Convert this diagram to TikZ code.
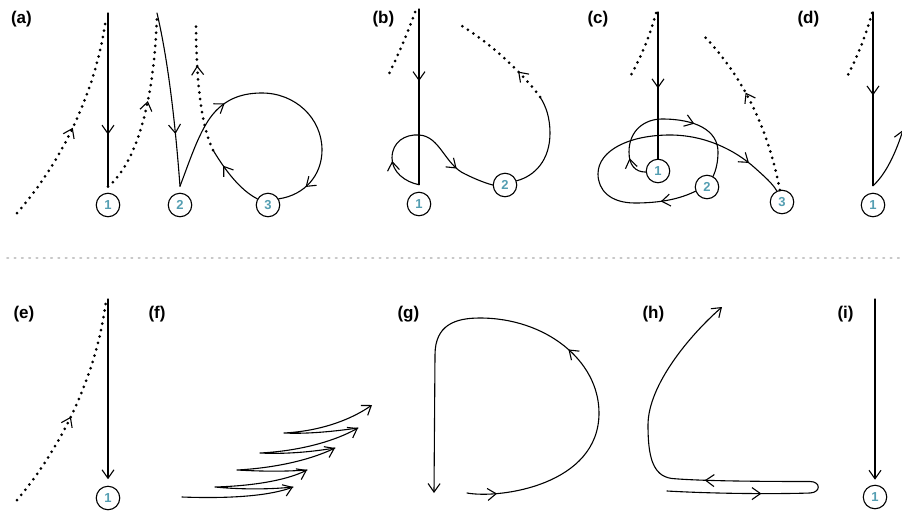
\documentclass[tikz,border=0pt]{standalone}
\usepackage{fontspec}
\newfontfamily\labfont{Liberation Sans}
\usetikzlibrary{arrows.meta,decorations.markings,calc}
\definecolor{numteal}{RGB}{84,158,178}
\definecolor{sepgray}{RGB}{200,200,200}
\tikzset{
  barb/.tip={Straight Barb[length=8.5pt,width=12pt,line width=1.1pt]},
  dotpath/.style={line width=3pt, dash pattern=on 0pt off 6.6pt, line cap=round},
  sepline/.style={sepgray, line width=1.6pt, dash pattern=on 1.5pt off 5.8pt},
  num/.style={circle, draw, line width=1.1pt, minimum size=23.5pt, inner sep=0pt,
    font=\labfont\bfseries\fontsize{13}{13}\selectfont, text=numteal},
  lab/.style={anchor=base west, inner sep=0pt, font=\labfont\bfseries\fontsize{17}{17}\selectfont},
  arrowat/.style={postaction={decorate}, decoration={markings, mark=at position #1 with {\arrow{barb}}}},
  arrowsat/.style 2 args={postaction={decorate}, decoration={markings,
    mark=at position #1 with {\arrow{barb}}, mark=at position #2 with {\arrow{barb}}}},
  endarrow/.style={-barb},
}
\begin{document}
\begin{tikzpicture}[x=1pt,y=-1pt,line width=1.1pt,line cap=round,line join=round]
\clip (0,0) rectangle (902,512);
\fill[white] (0,0) rectangle (902,512);

% panel labels
\node[lab] (la) at (10.5,23) {(a)};
\node[lab] (lb) at (372,23) {(b)};
\node[lab] (lc) at (587,23) {(c)};
\node[lab] (ld) at (797,23) {(d)};
\node[lab] (le) at (13,318) {(e)};
\node[lab] (lf) at (148,318) {(f)};
\node[lab] (lg) at (397,318) {(g)};
\node[lab] (lh) at (642,318) {(h)};
\node[lab] (li) at (837,318) {(i)};

% separator
\coordinate (sepL) at (7,258);
\coordinate (sepR) at (900,258);
\draw[sepline] (sepL) -- (sepR);

% ---------- (a)
\node[num] (a1) at (108,205) {1};
\node[num] (a2) at (180,205) {2};
\node[num] (a3) at (268,205) {3};
\coordinate (a1in) at ([yshift=6pt]a1.north);
\coordinate (a2in) at ([yshift=6.5pt]a2.north);
\coordinate (a1top) at (108,13);
\coordinate (aL0) at (17,213);
\coordinate (aL1) at (106,18);
\coordinate (aM1) at (157,13);
\coordinate (aD0) at (213,150);
\coordinate (aD1) at (196,21);
\draw[arrowat=0.70] (a1top) -- (a1in);
\draw[dotpath, arrowat=0.47] (aL0) .. controls (55,170) and (95,100) .. (aL1);
\draw[dotpath, arrowat=0.52] (a1in) .. controls (140,160) and (155,90) .. (aM1);
\draw[arrowat=0.70] (aM1) .. controls (168,60) and (175,120) .. (a2in);
\draw[arrowsat={0.32}{0.90}] (a2in) .. controls (190,160) and (198,135) .. (210,118)
   .. controls (225,97) and (245,93) .. (262,93)
   .. controls (295,93) and (322,118) .. (322,150)
   .. controls (322,175) and (305,195) .. (a3.30);
\draw[arrowat=0.72] (a3.150) .. controls (240,190) and (225,170) .. (aD0);
\draw[dotpath, arrowat=0.66] (aD0) .. controls (203,130) and (196,90) .. (aD1);

% ---------- (b)
\node[num] (b1) at (419,204) {1};
\node[num] (b2) at (505,185) {2};
\coordinate (b1in) at ([yshift=7pt]b1.north);
\coordinate (b1top) at (419,9);
\coordinate (bL0) at (415,12);
\coordinate (bL1) at (389,74);
\coordinate (bD0) at (540,97);
\coordinate (bD1) at (457,23);
\draw[arrowat=0.41] (b1top) -- (b1in);
\draw[dotpath] (bL0) .. controls (407,35) and (398,55) .. (bL1);
\draw[arrowsat={0.22}{0.77}] (b1in) .. controls (405,182) and (392,172) .. (392,158)
   .. controls (392,142) and (405,134) .. (419,135)
   .. controls (440,136) and (445,165) .. (465,174)
   .. controls (475,179) and (485,183) .. (b2.west);
\draw (b2.20) .. controls (535,176) and (550,160) .. (550,133)
   .. controls (550,118) and (546,106) .. (bD0);
\draw[dotpath, arrowat=0.3] (bD0) .. controls (528,80) and (495,45) .. (bD1);

% ---------- (c)
\node[num] (c1) at (658,171) {1};
\node[num] (c2) at (707,187) {2};
\node[num] (c3) at (782,202) {3};
\coordinate (c1top) at (658,12);
\coordinate (cL0) at (656,13);
\coordinate (cL1) at (631,75);
\coordinate (cD1) at (705,37);
\draw[arrowat=0.52] (c1top) -- (c1.north);
\draw[dotpath] (cL0) .. controls (650,35) and (642,55) .. (cL1);
\draw[arrowsat={0.13}{0.64}] (c1.185) .. controls (635,172) and (629,165) .. (629,152)
   .. controls (629,130) and (645,119) .. (662,119)
   .. controls (695,119) and (718,130) .. (718,152)
   .. controls (718,162) and (716,170) .. (c2.60);
\draw[arrowsat={0.11}{0.88}] (c2.200) .. controls (680,199) and (660,203) .. (635,203)
   .. controls (610,203) and (598,190) .. (598,174)
   .. controls (598,150) and (630,135) .. (670,135)
   .. controls (705,135) and (735,150) .. (755,168)
   .. controls (765,177) and (772,183) .. (c3.115);
\draw[dotpath, arrowat=0.6] (c3.100) .. controls (772,150) and (755,90) .. (cD1);

% ---------- (d)
\node[num] (d1) at (873,205) {1};
\coordinate (d1in) at ([yshift=7pt]d1.north);
\coordinate (d1top) at (873,12);
\coordinate (dL0) at (872,13);
\coordinate (dL1) at (848,75);
\coordinate (dR) at (903,130);
\draw[arrowat=0.48] (d1top) -- (d1in);
\draw[dotpath] (dL0) .. controls (866,35) and (858,55) .. (dL1);
\draw[endarrow] (d1in) .. controls (885,175) and (895,155) .. (dR);

% ---------- (e)
\node[num] (e1) at (108,498) {1};
\coordinate (e1in) at ([yshift=6.5pt]e1.north);
\coordinate (e1top) at (108,299);
\coordinate (eL0) at (17,500);
\coordinate (eL1) at (106,301);
\draw[endarrow] (e1top) -- (e1in);
\draw[dotpath, arrowat=0.45] (eL0) .. controls (55,455) and (95,385) .. (eL1);

% ---------- (f)
\coordinate (fS) at (182,497);
\coordinate (fT1) at (293,487);
\coordinate (fL2) at (215,487);
\coordinate (fT2) at (307,470);
\coordinate (fL3) at (237,470);
\coordinate (fT3) at (335,448);
\coordinate (fL4) at (260,453);
\coordinate (fT4) at (358,428);
\coordinate (fL5) at (284,433);
\coordinate (fT5) at (372,405);
\draw[endarrow] (fS) .. controls (235,499) and (272,495) .. (fT1);
\draw[endarrow] (fT1) .. controls (265,490) and (235,489) .. (fL2)
   .. controls (250,486) and (285,481) .. (fT2);
\draw[endarrow] (fT2) .. controls (280,472) and (255,471) .. (fL3)
   .. controls (275,468) and (310,460) .. (fT3);
\draw[endarrow] (fT3) .. controls (305,453) and (280,454) .. (fL4)
   .. controls (300,451) and (335,441) .. (fT4);
\draw[endarrow] (fT4) .. controls (330,432) and (305,434) .. (fL5)
   .. controls (322,431) and (352,419) .. (fT5);

% ---------- (g)
\coordinate (gS) at (467,493);
\coordinate (gE) at (434,493);
\draw[endarrow, arrowsat={0.055}{0.45}] (gS) .. controls (500,499) and (599,485) .. (599,413)
   .. controls (599,360) and (545,318) .. (480,318)
   .. controls (455,318) and (435,325) .. (435,355)
   -- (gE);

% ---------- (h)
\coordinate (hS) at (667,491);
\coordinate (hE) at (722,307);
\draw[endarrow, arrowsat={0.185}{0.53}] (hS) .. controls (720,494) and (780,494) .. (810,493)
   .. controls (821,492.5) and (821,481.5) .. (810,481.5)
   .. controls (760,481.5) and (700,481) .. (672,478.5)
   .. controls (652,476) and (648,455) .. (648,425)
   .. controls (648,385) and (690,335) .. (hE);

% ---------- (i)
\node[num] (i1) at (875,497) {1};
\coordinate (i1in) at ([yshift=5pt]i1.north);
\coordinate (i1top) at (875,299);
\draw[endarrow] (i1top) -- (i1in);
\end{tikzpicture}
\end{document}
